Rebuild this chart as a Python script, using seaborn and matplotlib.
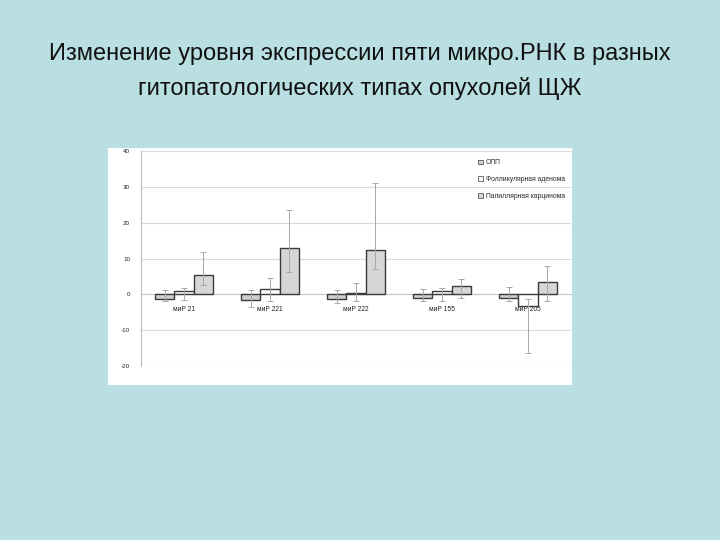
import matplotlib
matplotlib.use('Agg')
import matplotlib.pyplot as plt
import numpy as np
import pandas as pd
import seaborn as sns

# data
categories = ['миР 21', 'миР 221', 'миР 222', 'миР 155', 'миР 205']
groups = ['ОПП', 'Фолликулярная аденома', 'Папиллярная карцинома']

opp = [-1.3, -1.6, -1.3, -1.1, -1.1]
follicular = [1.1, 1.5, 0.3, 1.1, -3.1]
papillary = [5.4, 12.9, 12.4, 2.4, 3.5]

# error bar ends (upper / lower)
opp_hi = [1.2, 1.2, 1.2, 1.4, 2.2]
opp_lo = [-1.8, -3.4, -2.3, -1.8, -1.8]
follicular_hi = [1.8, 4.6, 3.3, 1.8, -1.2]
follicular_lo = [-1.5, -1.7, -1.8, -1.8, -16.4]
papillary_hi = [11.8, 23.6, 31.0, 4.3, 8.0]
papillary_lo = [2.7, 6.4, 7.1, -1.0, -1.7]

yticks = [40, 30, 20, 10, 0, -10, -20]

sns.set_theme(style="white")
plt.rcParams['font.family'] = ['Liberation Sans', 'DejaVu Sans']

df = pd.DataFrame({
    'miR': categories * 3,
    'group': [g for g in groups for _ in categories],
    'value': opp + follicular + papillary,
})

fig = plt.figure(figsize=(7.2, 5.4), dpi=100)
fig.patch.set_facecolor('#B9DFE2')

# white slide panel behind the chart
panel = plt.Rectangle((0.150, 0.287), 0.644, 0.439, transform=fig.transFigure,
                      facecolor='white', edgecolor='none', zorder=-1)
fig.patches.append(panel)

fig.text(0.5, 0.900, 'Изменение уровня экспрессии пяти микро.РНК в разных',
         ha='center', va='center', fontsize=17, color='#111111')
fig.text(0.5, 0.836, 'гитопатологических типах опухолей ЩЖ',
         ha='center', va='center', fontsize=17, color='#111111')

ax = fig.add_axes([0.196, 0.322, 0.597, 0.398])
ax.set_zorder(1)
ax.set_facecolor('white')

colors = {'ОПП': '#CFCFCF', 'Фолликулярная аденома': '#FFFFFF',
          'Папиллярная карцинома': '#D6D6D6'}
sns.barplot(data=df, x='miR', y='value', hue='group', hue_order=groups,
            palette=colors, errorbar=None, width=0.675, gap=0,
            edgecolor='#3A3A3A', linewidth=1.0, ax=ax, zorder=3)

highs = [opp_hi, follicular_hi, papillary_hi]
lows = [opp_lo, follicular_lo, papillary_lo]
vals = [opp, follicular, papillary]
for cont, v, hi, lo in zip(ax.containers, vals, highs, lows):
    xs = [p.get_x() + p.get_width() / 2 for p in cont.patches]
    v = np.array(v)
    yerr = [v - np.array(lo), np.array(hi) - v]
    ax.errorbar(xs, v, yerr=yerr, fmt='none', ecolor='#A8A8A8',
                elinewidth=0.7, capsize=2, capthick=0.7, zorder=4)

ax.set_xlim(-0.5, len(categories) - 0.5)
ax.set_ylim(-20, 40)
ax.set_yticks(yticks)
ax.set_yticklabels([str(t) for t in yticks], fontsize=4.5, color='#222222')
ax.yaxis.grid(True, color='#DADADA', linewidth=0.8)
ax.set_axisbelow(True)
ax.set_xlabel('')
ax.set_ylabel('')

for s in ['top', 'right']:
    ax.spines[s].set_visible(False)
ax.spines['left'].set_color('#BBBBBB')
ax.spines['left'].set_linewidth(0.8)
ax.spines['bottom'].set_position(('data', 0))
ax.spines['bottom'].set_color('#C8C8C8')
ax.spines['bottom'].set_linewidth(0.8)
ax.tick_params(axis='x', length=0, pad=8, labelsize=4.8, colors='#222222')
ax.tick_params(axis='y', length=2, width=0.6, color='#BBBBBB', pad=6)

leg = ax.legend(loc='upper right', bbox_to_anchor=(1.0, 0.99), frameon=False,
                fontsize=4.9, handlelength=0.7, handleheight=0.7,
                handletextpad=0.4, labelspacing=1.4)
for h in leg.legend_handles:
    h.set_linewidth(0.5)

fig.savefig('out.png', dpi=100, facecolor=fig.get_facecolor())
